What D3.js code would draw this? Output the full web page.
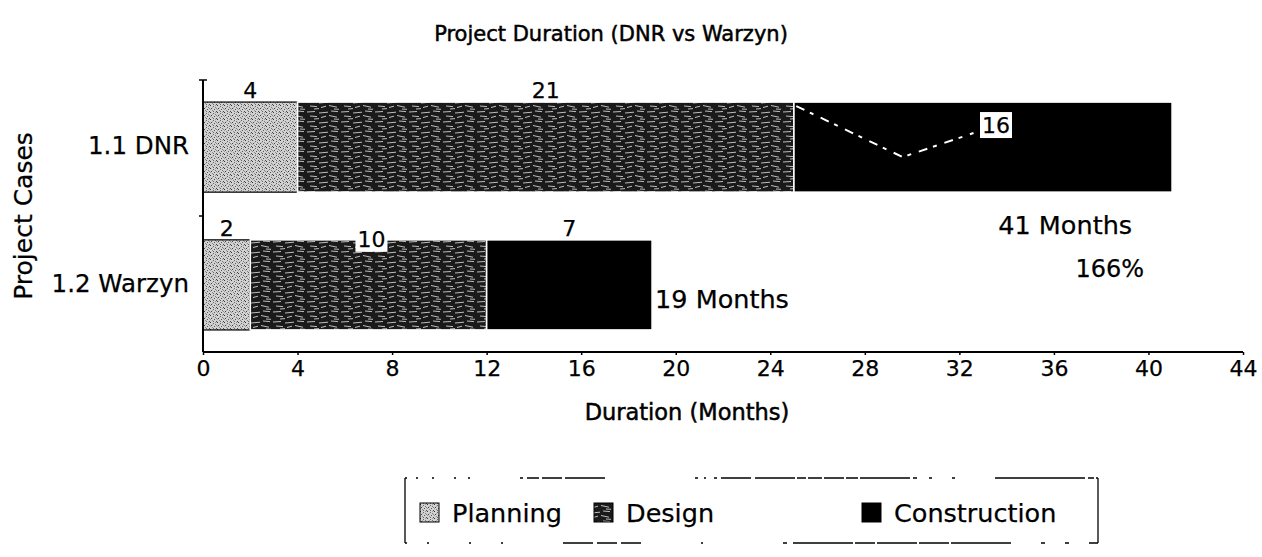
<!DOCTYPE html>
<html>
<head>
<meta charset="utf-8">
<script src="https://cdn.jsdelivr.net/npm/d3@7"></script>
<style>
  html, body { margin: 0; padding: 0; background: #fff; }
  svg { display: block; }
  text { font-family: "DejaVu Sans", "Liberation Sans", sans-serif; fill: #000; stroke: #000; stroke-width: 0.25px; }
</style>
</head>
<body>
<svg id="chart" width="1262" height="557"></svg>
<script>
// ---- data ----
const categories = ["1.1 DNR", "1.2 Warzyn"];
const phases = ["Planning", "Design", "Construction"];
const planning = [4, 2];
const design = [21, 10];
const construction = [16, 7];
const totalLabels = ["41 Months", "19 Months"];
const percentLabel = "166%";
const xTicks = [0, 4, 8, 12, 16, 20, 24, 28, 32, 36, 40, 44];
const title = "Project Duration (DNR vs Warzyn)";
const xTitle = "Duration (Months)";
const yTitle = "Project Cases";

const svg = d3.select("#chart");

// ---- scales ----
const x = d3.scaleLinear().domain([0, 44]).range([203, 1243]);
const y = d3.scaleBand().domain(categories).range([80, 352]).paddingInner(0.346).paddingOuter(0.16);

// ---- patterns ----
const defs = svg.append("defs");
const pPlan = defs.append("pattern").attr("id", "plan").attr("patternUnits", "userSpaceOnUse")
  .attr("width", 7).attr("height", 7);
pPlan.append("rect").attr("width", 7).attr("height", 7).attr("fill", "#d2d2d2");
[[0,0,"#333"],[3,1,"#666"],[1,3,"#444"],[4,4,"#555"],[2,5,"#888"],[5,2,"#777"],[0,4,"#999"],[6,6,"#444"],[5,0,"#999"],[2,2,"#aaa"],[6,3,"#888"],[3,6,"#666"]].forEach(d =>
  pPlan.append("rect").attr("x", d[0]).attr("y", d[1]).attr("width", 1).attr("height", 1).attr("fill", d[2]));

const pDes = defs.append("pattern").attr("id", "des").attr("patternUnits", "userSpaceOnUse")
  .attr("width", 34).attr("height", 10);
pDes.append("rect").attr("width", 34).attr("height", 10).attr("fill", "#1a1a1a");
[[1,2,9,1.5],[13,3,22,2.2],[25,1,32,1.6],[4,6,11,6.6],[15,7.5,20,6.2],[23,5.5,31,7.2],[8,9,13,8.6],[28,9,33,9.3]].forEach(d =>
  pDes.append("line").attr("x1", d[0]).attr("y1", d[1]).attr("x2", d[2]).attr("y2", d[3])
    .attr("stroke", "#cfcfcf").attr("stroke-width", 0.9));

const fills = { Planning: "url(#plan)", Design: "url(#des)", Construction: "#000" };

// ---- stacked data ----
const rows = categories.map((c, i) => ({ cat: c, Planning: planning[i], Design: design[i], Construction: construction[i] }));
const stack = d3.stack().keys(phases)(rows);

// ---- title ----
svg.append("text").attr("x", 611).attr("y", 41).attr("text-anchor", "middle")
  .attr("font-size", 21).style("stroke-width", "0.5px").text(title);

// ---- bars ----
stack.forEach(layer => {
  const key = layer.key;
  svg.append("g").selectAll("rect").data(layer).join("rect")
    .attr("x", d => x(d[0]))
    .attr("y", d => y(d.data.cat))
    .attr("width", d => x(d[1]) - x(d[0]))
    .attr("height", y.bandwidth())
    .attr("fill", fills[key])
    .attr("stroke", key === "Planning" ? "#000" : "#fff")
    .attr("stroke-width", key === "Planning" ? 1.2 : 1.6);
});

// scan artefact: white dashed streak across the DNR construction segment
{
  const top = y(categories[0]);
  const streak = d3.line()([[x(25.1), top + 4], [x(29.6), top + 55], [x(32.6), top + 31]]);
  svg.append("path").attr("d", streak).attr("fill", "none").attr("stroke", "#fff")
    .attr("stroke-width", 2).attr("stroke-dasharray", "9 6 4 8");
}

// ---- segment value labels ----
const labelShift = { "1.1 DNR|Construction": [13, 35], "1.2 Warzyn|Design": [3, 11] };
stack.forEach(layer => {
  layer.forEach(d => {
    const val = d[1] - d[0];
    const sh = labelShift[d.data.cat + "|" + layer.key] || [0, 0];
    const cx = x((d[0] + d[1]) / 2) + sh[0];
    const by = y(d.data.cat) - 4 + sh[1];
    const g = svg.append("g");
    const t = g.append("text").attr("x", cx).attr("y", by).attr("text-anchor", "middle")
      .attr("font-size", 22).text(val);
    if (sh[1] > 0) {
      const bb = t.node().getBBox();
      g.insert("rect", "text").attr("x", bb.x - 2).attr("y", bb.y - 1).attr("width", bb.width + 4)
        .attr("height", bb.height + 1).attr("fill", "#fff");
    }
  });
});

// ---- total labels ----
svg.append("text").attr("x", x(41) - 40).attr("y", 234).attr("text-anchor", "end")
  .attr("font-size", 25.5).text(totalLabels[0]);
svg.append("text").attr("x", x(41) - 28).attr("y", 277).attr("text-anchor", "end")
  .attr("font-size", 24).text(percentLabel);
svg.append("text").attr("x", x(19) + 3).attr("y", 308).attr("text-anchor", "start")
  .attr("font-size", 25.5).text(totalLabels[1]);

// ---- y axis ----
const yAxis = d3.axisLeft(y).tickSize(0).tickPadding(14);
const gy = svg.append("g").attr("transform", `translate(${x(0)},0)`).call(yAxis);
gy.select(".domain").remove();
gy.selectAll("text").attr("font-size", 24.5).attr("font-family", "DejaVu Sans").attr("dy", "0.3em");
svg.append("line").attr("x1", x(0)).attr("x2", x(0)).attr("y1", y.range()[0]).attr("y2", y.range()[1])
  .attr("stroke", "#000").attr("stroke-width", 2);
svg.append("line").attr("x1", x(0) - 4).attr("x2", x(0) + 4).attr("y1", y.range()[0]).attr("y2", y.range()[0])
  .attr("stroke", "#000").attr("stroke-width", 1.5);
const boundary = y(categories[1]) - y.step() * y.paddingInner() / 2;
svg.append("line").attr("x1", x(0) - 4).attr("x2", x(0)).attr("y1", boundary).attr("y2", boundary)
  .attr("stroke", "#000").attr("stroke-width", 1.5);

// y title
svg.append("text").attr("transform", `translate(32,${(y.range()[0] + y.range()[1]) / 2}) rotate(-90)`)
  .attr("text-anchor", "middle").attr("font-size", 25).text(yTitle);

// ---- x axis ----
const xAxis = d3.axisBottom(x).tickValues(xTicks).tickSize(3).tickPadding(5).tickFormat(d3.format("d"));
const gx = svg.append("g").attr("transform", `translate(0,${y.range()[1]})`).call(xAxis);
gx.select(".domain").attr("stroke-width", 2).attr("d", `M${x(0)},0H${x(44)}`);
gx.selectAll(".tick line").attr("stroke-width", 1.5);
gx.selectAll("text").attr("font-size", 22).attr("font-family", "DejaVu Sans");

svg.append("text").attr("x", 687).attr("y", 420).attr("text-anchor", "middle")
  .attr("font-size", 22.5).style("stroke-width", "0.5px").text(xTitle);

// ---- legend ----
const lg = svg.append("g");
const box = { x0: 405, x1: 1098, y0: 478, y1: 543 };
lg.append("line").attr("x1", box.x0).attr("x2", box.x0).attr("y1", box.y0).attr("y2", box.y1)
  .attr("stroke", "#000").attr("stroke-width", 1.3);
lg.append("line").attr("x1", box.x1).attr("x2", box.x1).attr("y1", box.y0).attr("y2", box.y1)
  .attr("stroke", "#000").attr("stroke-width", 1.3);
lg.append("line").attr("x1", box.x0).attr("x2", box.x1).attr("y1", box.y0).attr("y2", box.y0)
  .attr("stroke", "#000").attr("stroke-width", 1.5).attr("stroke-dasharray", "2 9 2 14 2 20 2 12 2 50 3 4 12 3 20 3 40 90 3 6 2 8 3 4 30 4 40");
lg.append("line").attr("x1", box.x0).attr("x2", box.x1).attr("y1", box.y1).attr("y2", box.y1)
  .attr("stroke", "#000").attr("stroke-width", 1.5).attr("stroke-dasharray", "2 20 2 40 2 30 2 60 30 4 20 4 20 60 2 80 4 6 60");

const legendX = [420, 594, 862];
phases.forEach((p, i) => {
  lg.append("rect").attr("x", legendX[i]).attr("y", 503).attr("width", 19).attr("height", 19)
    .attr("fill", fills[p]).attr("stroke", "#000").attr("stroke-width", 1);
  lg.append("text").attr("x", legendX[i] + 32).attr("y", 522).attr("font-size", 25.5).text(p);
});
</script>
</body>
</html>
